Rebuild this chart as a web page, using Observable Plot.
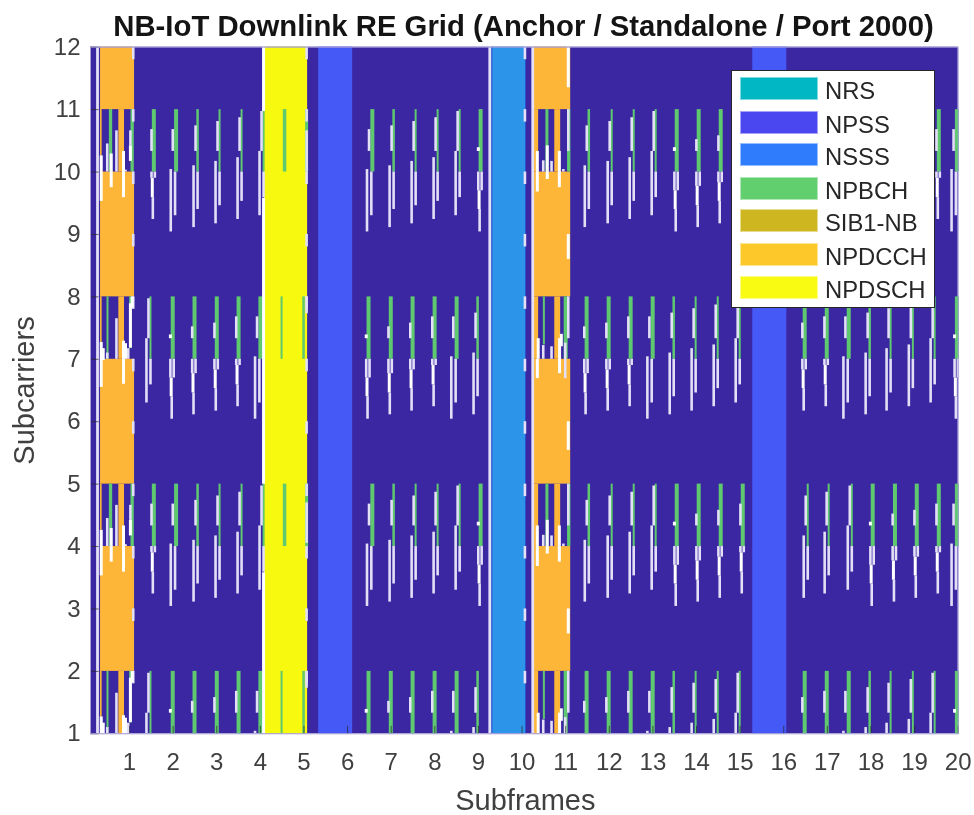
<!DOCTYPE html>
<html><head><meta charset="utf-8">
<script src="https://cdn.jsdelivr.net/npm/d3@7"></script>
<script src="https://cdn.jsdelivr.net/npm/@observablehq/plot@0.6"></script>
<style>
html,body{margin:0;padding:0;background:#fff}
#wrap{position:relative;width:974px;height:815px;overflow:hidden;font-family:"Liberation Sans",Arial,sans-serif;filter:blur(.45px)}
#title{position:absolute;left:0;top:11px;width:1047px;text-align:center;font-weight:bold;font-size:29.3px;line-height:30px;color:#141414;white-space:nowrap}
#legend{position:absolute;left:731px;top:70px;width:202px;height:236px;background:#fff;border:1.5px solid #262626}
.sw{position:absolute;left:8px;width:76px;height:21px;border:1px solid rgba(255,255,255,.5)}
.lb{position:absolute;left:93px;font-size:23.8px;line-height:24px;color:#262626;white-space:nowrap}
</style></head><body>
<div id="wrap"><div id="title">NB-IoT Downlink RE Grid (Anchor / Standalone / Port 2000)</div><div id="plot"></div><div id="legend"></div></div>
<script>
// ---------- legend ----------
const legendNames=["NRS","NPSS","NSSS","NPBCH","SIB1-NB","NPDCCH","NPDSCH"];
const legendColors=["#00b7c3","#4a46f0","#2f7dfc","#62cf6e","#cdb61f","#fcc82a","#f9fb12"];
// ---------- solid channel blocks, subframes and subcarriers ----------
const npdcchRows=[[11,12],[8,10],[5,7],[2,4]];
const windowRows=[[10,11],[7,8],[4,5],[1,2]];
const npdcchCols=[[0.335,1.115],[10.27,11.115]];
const npdschCol=[4.096,5.083];
const npssCols=[[5.335,6.115],[15.29,16.07]];
const nsssCol=[9.326,10.08];
// strips of NPDCCH left inside the windows: x1,x2,bandfrom(offset),bandto
const windowStrips=[[0.335,0.372,0,0.74],[0.755,0.885,0,1],[10.27,10.38,0,1],[10.75,10.885,0,1]];
// band tops, A = 11 and 5, B = 8 and 2
const bandATops=[11,5], bandBTops=[8,2];
// tick columns: x (subframes), pattern, for each band family
const colsAx=[1.557,2.067,2.56,3.064,3.569,4.073,6.567,7.055,7.56,8.064,8.569,9.05,11.53,12.055,12.56,13.064,13.546,14.05,14.555,15.06,16.55,17.03,17.56,18.04,18.55,19.05,19.555,19.97];
const colsAp=["d","2","3","4","5","6","2","3","4","5","6","0","3","4","5","6","0","b","c","d","4","5","6","0","b","c","d","2"];
const colsBx=[1.48,1.99,2.49,3.0,3.5,4.0,6.48,6.99,7.49,7.995,8.5,8.98,11.48,11.986,12.49,12.995,13.477,13.98,14.486,14.99,16.48,16.986,17.49,17.97,18.45,18.96,19.46,19.97];
const colsBp=["6","0","b","c","d","2","0","b","c","d","2","3","b","c","d","2","3","4","5","6","c","d","2","3","4","5","6","0"];
// width of the NPBCH stripe for each pattern
const stripeWidth={"0":4,"b":4,"c":4,"d":4,"2":4,"3":2.5,"4":2,"5":2,"6":2};
// gap segments per pattern: dx, from, to (offset below the band top), bright
const gapPatterns={
 "0":[[-.053,.61,.67,1],[-.053,1,1.3,0],[.023,1,1.3,0],[-.035,1.3,1.6,1],[-.023,1.6,1.96,0]],
 "b":[[-.053,.48,.67,0],[-.053,1,1.23,0],[.023,1,1.23,0],[-.035,1.23,1.54,1],[-.023,1.54,1.89,0]],
 "c":[[-.053,.42,.67,0],[-.053,1,1.17,0],[.023,1,1.17,0],[-.035,1.17,1.47,1],[-.023,1.47,1.83,0]],
 "d":[[-.053,.32,.67,0],[-.053,1,1.1,0],[.023,1,1.1,0],[-.035,1.1,1.41,1],[-.023,1.41,1.76,0]],
 "2":[[-.076,.32,.67,0],[-.122,.96,1.96,0],[-.023,1,1.7,0]],
 "3":[[-.046,.26,.67,0],[-.092,.9,1.89,0],[0,1,1.6,0]],
 "4":[[-.046,.19,.67,0],[-.092,.83,1.83,0],[0,1,1.54,0]],
 "5":[[-.046,.13,.67,0],[-.092,.77,1.76,0],[0,1,1.47,0]],
 "6":[[-.046,.03,.67,0],[-.092,.67,1.7,0],[0,1,1.41,0]]
};
// NPBCH inside the NPDSCH block and the NPDCCH subframes: x, from, to, width
const extraStripesA=[[4.555,0,1,3.5],[5.06,0,1,3],[0.564,0,1,3.3],[1.06,0,1,3.3],[10.57,0,1,3],[11.07,0,1,3.3]];
const extraStripesB=[[4.486,0,1,2],[4.99,0,1,2.5],[0.495,0,1,2],[1.02,0,.83,2.5],[10.5,0,.77,2],[11.0,0,1,4]];
// gaps in the NPDCCH subframes: x, from, to, bright
const firstGapsA=[[.351,.74,1.47,1],[.489,.55,1,0],[.58,.71,1.25,1],[.70,.34,1,0],[.862,.67,1.41,1],[.908,.97,1,0],[1.02,.34,.58,0],[1.02,.58,.83,1]];
const firstGapsB=[[.351,.73,1.45,1],[.397,.83,1.02,1],[.489,.9,1,0],[.70,.35,1,0],[.862,.71,1.4,1],[.908,.75,1,1],[.97,.83,1,0],[1.02,.11,.82,1],[1.06,0,.18,1]];
const secondGapsA=[[10.35,.67,1.32,1],[10.486,.82,1,0],[10.578,.58,1.12,1],[10.676,.83,1,0],[10.855,.67,1.25,1],[10.947,.96,1,0],[11.06,0,.67,0]];
const secondGapsB=[[10.37,.67,1,1],[10.35,1,1.31,1],[10.486,.78,1,0],[10.676,.8,1,0],[10.86,.67,1.23,1],[10.9,.6,.8,1],[10.99,.74,1.31,0],[11.06,0,.67,0]];
// full-height lines: x, colour kind
const longLines=[[.266,1,12],[9.26,1,12],[10.245,1,12]];
const yellowEdge=[[12,10.97],[9.58,5],[3.58,1]];
const edgeXs=[1.085,5.06,10.066];
const edgeYs=[12,11,10,9,8,7,6,5,4,3,2];
const orangeEdge=[[12,11.35],[9,8.6],[6,5.54],[3,2.6]];
const yellowRightGaps=[[11,.34,1],[5,.3,.95],[8,0,.27],[2,0,.27]];

// ---------- flatten tables for the marks ----------
const rect=(x,y,fill)=>({x1:x[0],x2:x[1],y1:y[0],y2:y[1],fill});
const blocks=[];
npdcchCols.forEach(c=>npdcchRows.forEach(r=>blocks.push(rect(c,r,"#fdb638"))));
windowRows.forEach(r=>windowStrips.forEach(s=>blocks.push(rect([s[0],s[1]],[Math.max(1,r[1]-s[2]),Math.max(1,r[1]-s[3])],"#fdb638"))));
[[1,12]].forEach(r=>{blocks.push(rect(npdschCol,r,"#f7fa0f"));npssCols.forEach(c=>blocks.push(rect(c,r,"#4559f7")));blocks.push(rect(nsssCol,r,"#2c95ea"));
 blocks.push(rect([9.29,9.326],r,"#2b58d3"));blocks.push(rect([10.08,10.1],r,"#2b58d3"));});
const clip=y=>Math.max(1,y);
const stripes=[],gaps=[];
const addGap=(x,top,from,to,b)=>{const y1=top-from,y2=clip(top-to);if(y1>1)gaps.push({x,y1,y2,b});};
const family=(tops,xs,ps,es,fg,sg)=>tops.forEach(t=>{
 xs.forEach((x,i)=>{stripes.push({x,y1:t,y2:t-1,w:stripeWidth[ps[i]]});gapPatterns[ps[i]].forEach(g=>addGap(x+g[0],t,g[1],g[2],g[3]));});
 es.forEach(e=>stripes.push({x:e[0],y1:t-e[1],y2:t-e[2],w:e[3]}));
 fg.concat(sg).forEach(g=>addGap(g[0],t,g[1],g[2],g[3]));
});
family(bandATops,colsAx,colsAp,extraStripesA,firstGapsA,secondGapsA);
family(bandBTops,colsBx,colsBp,extraStripesB,firstGapsB,secondGapsB);
edgeXs.forEach(x=>edgeYs.forEach(y=>gaps.push({x,y1:y,y2:y-.2,b:0})));
orangeEdge.forEach(e=>gaps.push({x:11.06,y1:e[0],y2:e[1],b:1}));
yellowRightGaps.forEach(e=>gaps.push({x:5.06,y1:e[0]-e[1],y2:e[0]-e[2],b:0}));
yellowEdge.forEach(e=>gaps.push({x:4.073,y1:e[0],y2:e[1],b:1}));

const plot=Plot.plot({
 width:974,height:815,marginLeft:90,marginRight:16.3,marginTop:46.7,marginBottom:81.7,
 style:{fontFamily:'"Liberation Sans",Arial,sans-serif',background:"transparent"},
 x:{domain:[0.105,20],label:null},
 y:{domain:[1,12],label:null},
 marks:[
  Plot.rect([{}],{x1:0.105,x2:20,y1:1,y2:12,fill:"#3c27a3"}),
  Plot.rect(blocks,{x1:"x1",x2:"x2",y1:"y1",y2:"y2",fill:d=>d.fill}),
  Plot.ruleX(stripes,{x:"x",y1:"y1",y2:"y2",stroke:"#5ec96f",strokeWidth:"w"}),
  Plot.ruleX(longLines,{x:d=>d[0],y1:d=>d[1],y2:d=>d[2],stroke:"#e4e1f6",strokeWidth:2.8}),
  Plot.ruleX(gaps.filter(d=>!d.b),{x:"x",y1:"y1",y2:"y2",stroke:"#e2dff6",strokeWidth:2.6}),
  Plot.ruleX(gaps.filter(d=>d.b),{x:"x",y1:"y1",y2:"y2",stroke:"#ffffff",strokeWidth:3}),
  Plot.ruleY(d3.range(1,13),{x1:0.105,x2:0.3,y:d=>d,stroke:"#262626",strokeWidth:.7}),
  Plot.ruleX(d3.range(1,21),{x:d=>d,y1:1,y2:1.12,stroke:"#262626",strokeWidth:.7}),
  Plot.frame({stroke:"#a49fd6",strokeWidth:1}),
  Plot.axisX({ticks:d3.range(1,21),tickFormat:d=>d,tickSize:0,tickPadding:19,fontSize:24,fill:"#404040",label:null}),
  Plot.axisY({ticks:d3.range(1,13),tickFormat:d=>d,tickSize:0,tickPadding:10,fontSize:24,fill:"#404040",label:null}),
  Plot.text(["Subframes"],{frameAnchor:"bottom",dy:76,dx:1,fontSize:29,fill:"#404040"}),
  Plot.text(["Subcarriers"],{frameAnchor:"left",textAnchor:"middle",rotate:-90,dx:-66,fontSize:29,fill:"#404040"})
 ]
});
document.getElementById("plot").appendChild(plot);
const lg=document.getElementById("legend");
const rowTops=[6,40,72,106,138,172,205];
legendNames.forEach((n,i)=>{
 const s=document.createElement("div");s.className="sw";s.style.top=rowTops[i]+"px";s.style.background=legendColors[i];lg.appendChild(s);
 const t=document.createElement("div");t.className="lb";t.style.top=(rowTops[i]+2)+"px";t.textContent=n;lg.appendChild(t);
});
</script>
</body></html>
